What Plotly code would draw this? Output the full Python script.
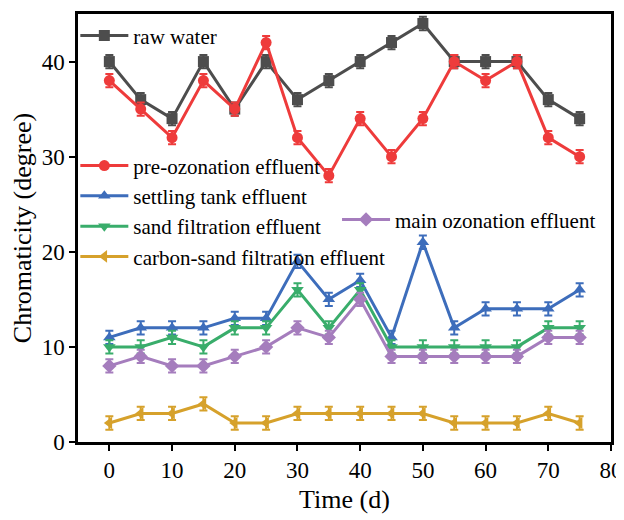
import plotly.graph_objects as go

time_d = [0, 5, 10, 15, 20, 25, 30, 35, 40, 45, 50, 55, 60, 65, 70, 75]
raw_water = [40, 36, 34, 40, 35, 40, 36, 38, 40, 42, 44, 40, 40, 40, 36, 34]
pre_ozonation = [38, 35, 32, 38, 35, 42, 32, 28, 34, 30, 34, 40, 38, 40, 32, 30]
settling_tank = [11, 12, 12, 12, 13, 13, 19, 15, 17, 11, 21, 12, 14, 14, 14, 16]
sand_filtration = [10, 10, 11, 10, 12, 12, 16, 12, 16, 10, 10, 10, 10, 10, 12, 12]
main_ozonation = [8, 9, 8, 8, 9, 10, 12, 11, 15, 9, 9, 9, 9, 9, 11, 11]
carbon_sand = [2, 3, 3, 4, 2, 2, 3, 3, 3, 3, 3, 2, 2, 2, 3, 2]
err = 0.7

series = [
    ("raw water", raw_water, "#4d4d4d", "square", "legend"),
    ("pre-ozonation effluent", pre_ozonation, "#ee3b3b", "circle", "legend2"),
    ("settling tank effluent", settling_tank, "#3d6dbb", "triangle-up", "legend2"),
    ("sand filtration effluent", sand_filtration, "#39ad6b", "triangle-down", "legend2"),
    ("main ozonation effluent", main_ozonation, "#a57dbd", "diamond", "legend3"),
    ("carbon-sand filtration effluent", carbon_sand, "#d6a12b", "triangle-left", "legend2"),
]

fig = go.Figure()
for name, vals, color, sym, leg in series:
    fig.add_trace(go.Scatter(
        x=time_d, y=vals, name=name, mode="lines+markers",
        line=dict(color=color, width=3),
        marker=dict(symbol=sym, size=11, color=color),
        error_y=dict(type="constant", value=err, color=color, thickness=2, width=4),
        legend=leg, showlegend=True,
    ))

FF = "Liberation Serif"
leg_common = dict(xanchor="left", yanchor="top", bgcolor="rgba(0,0,0,0)",
                  font=dict(size=21, family=FF, color="black"),
                  itemwidth=48, tracegroupgap=0)
fig.update_layout(
    width=616, height=512,
    showlegend=True,
    margin=dict(l=70, r=13, t=6, b=78),
    paper_bgcolor="white", plot_bgcolor="white",
    font=dict(family=FF, size=21, color="black"),
    legend=dict(x=-0.005, y=0.997, **leg_common),
    legend2=dict(x=-0.005, y=0.693, **leg_common),
    legend3=dict(x=0.486, y=0.567, **leg_common),
)
fig.update_xaxes(
    range=[-5, 80], tickvals=list(range(0, 90, 10)),
    tickfont=dict(family=FF, size=23, color="black"),
    showline=True, linecolor="black", linewidth=2.5, mirror=True,
    ticks="outside", ticklen=6, tickwidth=2, tickcolor="black",
    showgrid=False, zeroline=False, automargin=False,
    title=dict(text="Time (d)", font=dict(family=FF, size=26, color="black"), standoff=8),
)
fig.update_yaxes(
    range=[0, 45], tickvals=list(range(0, 50, 10)),
    tickfont=dict(family=FF, size=23, color="black"),
    showline=True, linecolor="black", linewidth=2.5, mirror=True,
    ticks="outside", ticklen=6, tickwidth=2, tickcolor="black",
    showgrid=False, zeroline=False, automargin=False,
    title=dict(text="Chromaticity (degree)", font=dict(family=FF, size=26, color="black"), standoff=4),
)
fig.write_html("out.html")
